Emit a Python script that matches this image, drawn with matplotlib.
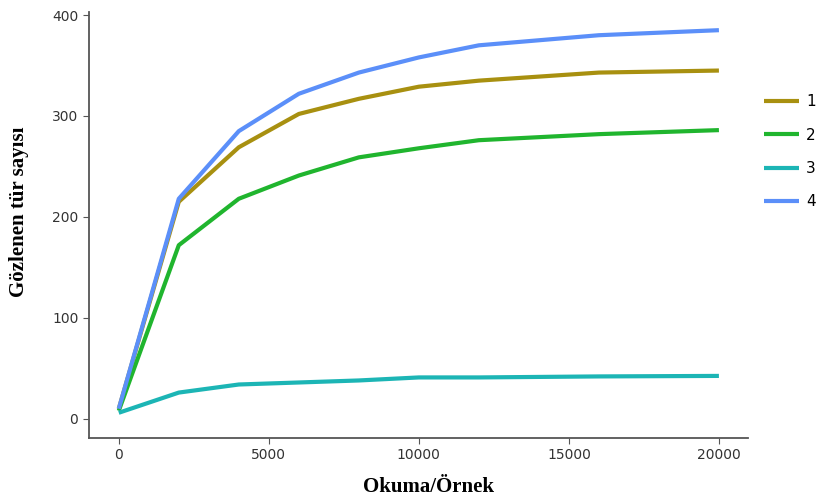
import matplotlib.pyplot as plt

# rarefaction data
okuma = [0, 2000, 4000, 6000, 8000, 10000, 12000, 16000, 20000]
seri1 = [10, 215, 269, 302, 317, 329, 335, 343, 345]
seri2 = [8, 172, 218, 241, 259, 268, 276, 282, 286]
seri3 = [6, 26, 34, 36, 38, 41, 41, 42, 42.5]
seri4 = [10, 218, 285, 322, 343, 358, 370, 380, 385]
etiketler = ["1", "2", "3", "4"]
renkler = ["#a89010", "#20b52e", "#1cb5b5", "#5b8ff9"]

fig = plt.figure(figsize=(8.22, 5.0), dpi=100)
ax = fig.add_axes([0.108, 0.124, 0.802, 0.852])

for y, lab, c in zip([seri1, seri2, seri3, seri4], etiketler, renkler):
    ax.plot(okuma, y, color=c, lw=3.0, label=lab, solid_capstyle="butt")

ax.set_xlim(-1000, 20970)
ax.set_ylim(-19, 403)
ax.set_xticks([0, 5000, 10000, 15000, 20000])
ax.set_yticks([0, 100, 200, 300, 400])

for s in ["top", "right"]:
    ax.spines[s].set_visible(False)
for s in ["left", "bottom"]:
    ax.spines[s].set_color("#555555")
    ax.spines[s].set_linewidth(1.3)
ax.tick_params(colors="#555555", labelcolor="#333333", labelsize=10, length=4)

ax.set_xlabel("Okuma/Örnek", family="Liberation Serif", fontweight="bold", fontsize=15)
ax.xaxis.set_label_coords(0.515, -0.092)
ax.set_ylabel("Gözlenen tür sayısı", family="Liberation Serif", fontweight="bold", fontsize=15)
ax.yaxis.set_label_coords(-0.09, 0.53)

leg = ax.legend(loc="center left", bbox_to_anchor=(1.008, 0.672), frameon=False,
                fontsize=11, handlelength=2.3, labelspacing=1.2, handletextpad=0.45,
                borderaxespad=0.3)

fig.savefig("out.png", dpi=100)
